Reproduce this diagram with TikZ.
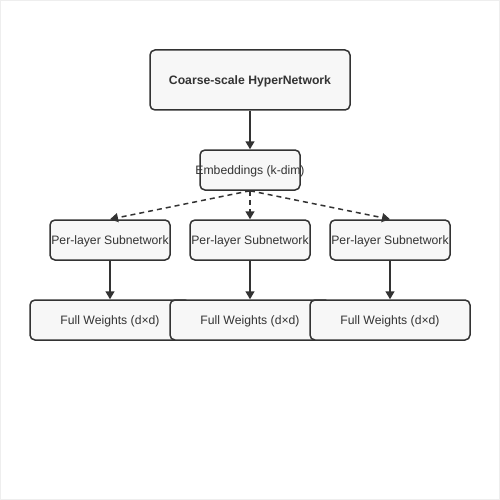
\documentclass[tikz,border=0pt]{standalone}
\usepackage{fontspec}
\setmainfont{Liberation Sans}
\usetikzlibrary{arrows.meta}
\definecolor{strokec}{HTML}{333333}
\definecolor{fillc}{HTML}{F7F7F7}
\definecolor{framec}{HTML}{EEEEEE}
\tikzset{
  box/.style={draw=strokec, fill=fillc, line width=1.5pt, rounded corners=5pt,
    inner sep=0pt, text=strokec, font=\fontsize{12.2}{14}\selectfont},
  arr/.style={draw=strokec, line width=1.5pt, -{Triangle[length=8pt,width=9pt]}},
  dasharr/.style={arr, dash pattern=on 5pt off 4pt},
}
\newcommand{\zw}[1]{\makebox[0pt]{\raisebox{-4.4pt}[0pt][0pt]{#1}}}
\begin{document}
\begin{tikzpicture}[x=1pt,y=-1pt]
\useasboundingbox (0,0) rectangle (500,500);
\draw[framec, line width=1pt] (0.5,0.5) rectangle (499.5,499.5);
\node[box, minimum width=200pt, minimum height=60pt, font=\fontsize{12.2}{14}\selectfont\bfseries] (top) at (250,80) {\zw{Coarse-scale HyperNetwork}};
\node[box, minimum width=100pt, minimum height=40pt] (emb) at (250,170) {\zw{Embeddings (k-dim)}};
\node[box, minimum width=120pt, minimum height=40pt] (p1) at (110,240) {\zw{Per-layer Subnetwork}};
\node[box, minimum width=120pt, minimum height=40pt] (p2) at (250,240) {\zw{Per-layer Subnetwork}};
\node[box, minimum width=120pt, minimum height=40pt] (p3) at (390,240) {\zw{Per-layer Subnetwork}};
\node[box, minimum width=160pt, minimum height=40pt] (f1) at (110,320) {\zw{Full Weights (d×d)}};
\node[box, minimum width=160pt, minimum height=40pt] (f2) at (250,320) {\zw{Full Weights (d×d)}};
\node[box, minimum width=160pt, minimum height=40pt] (f3) at (390,320) {\zw{Full Weights (d×d)}};
\draw[arr] (top.south) -- (emb.north);
\draw[dasharr] (emb.south) -- (p1.north);
\draw[dasharr] (emb.south) -- (p2.north);
\draw[dasharr] (emb.south) -- (p3.north);
\draw[arr] (p1.south) -- (f1.north);
\draw[arr] (p2.south) -- (f2.north);
\draw[arr] (p3.south) -- (f3.north);
\end{tikzpicture}
\end{document}
